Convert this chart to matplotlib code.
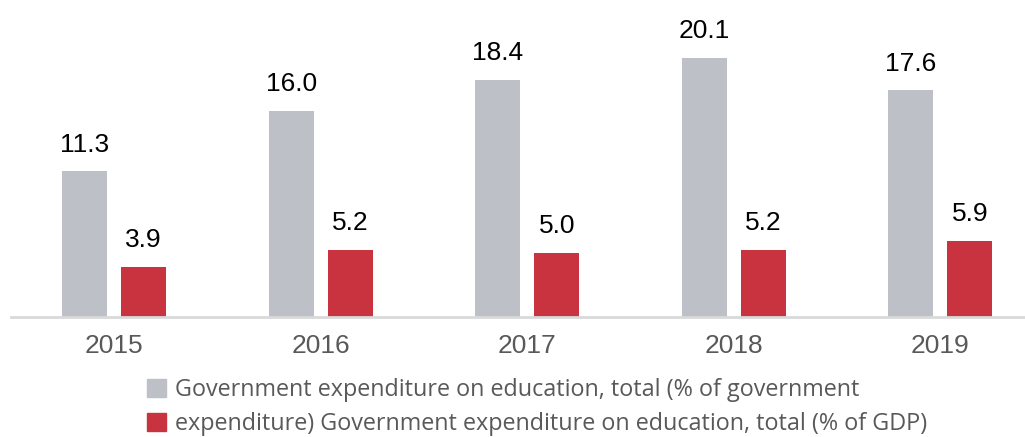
import matplotlib.pyplot as plt
import matplotlib.patches as mpatches
import numpy as np

years = ['2015', '2016', '2017', '2018', '2019']
pct_gov = [11.3, 16.0, 18.4, 20.1, 17.6]
pct_gdp = [3.9, 5.2, 5.0, 5.2, 5.9]
labels = ['Government expenditure on education, total (% of government',
          'expenditure) Government expenditure on education, total (% of GDP)']

grey = '#BDC0C7'
red = '#C8333F'

fig = plt.figure(figsize=(10.25, 4.37), dpi=100)
ax = fig.add_axes([11/1025, 1 - 317/437, 1 - 11/1025, 317/437])

x = np.arange(len(years))
w = 0.218
off = 0.143
b1 = ax.bar(x - off, pct_gov, w, color=grey)
b2 = ax.bar(x + off, pct_gdp, w, color=red)

# valeurs au-dessus des barres
for bars, vals in ((b1, pct_gov), (b2, pct_gdp)):
    for b, v in zip(bars, vals):
        ax.annotate('%.1f' % v, (b.get_x() + b.get_width()/2, v),
                    xytext=(0, 10.5), textcoords='offset points',
                    ha='center', va='bottom', fontsize=19,
                    family='Liberation Sans', color='black')

ax.set_xlim(-0.5, 4.41)
ax.set_ylim(0, 317/12.89)
ax.set_xticks(x)
ax.set_xticklabels(years, fontsize=19, family='Liberation Sans', color='#595959')
ax.tick_params(axis='x', length=0, pad=12)
ax.set_yticks([])
for s in ['top', 'right', 'left']:
    ax.spines[s].set_visible(False)
ax.spines['bottom'].set_color('#D9D9D9')
ax.spines['bottom'].set_linewidth(2)

handles = [mpatches.Patch(color=grey), mpatches.Patch(color=red)]
fig.legend(handles, labels, loc='upper left', bbox_to_anchor=(147/1025, 1 - 378/437),
           frameon=False, prop={'family': 'Open Sans', 'size': 16.8},
           labelcolor='#595959', handlelength=0.8, handleheight=0.8,
           handletextpad=0.4, labelspacing=0.42, borderpad=0, borderaxespad=0)

fig.savefig('out.png', dpi=100)
